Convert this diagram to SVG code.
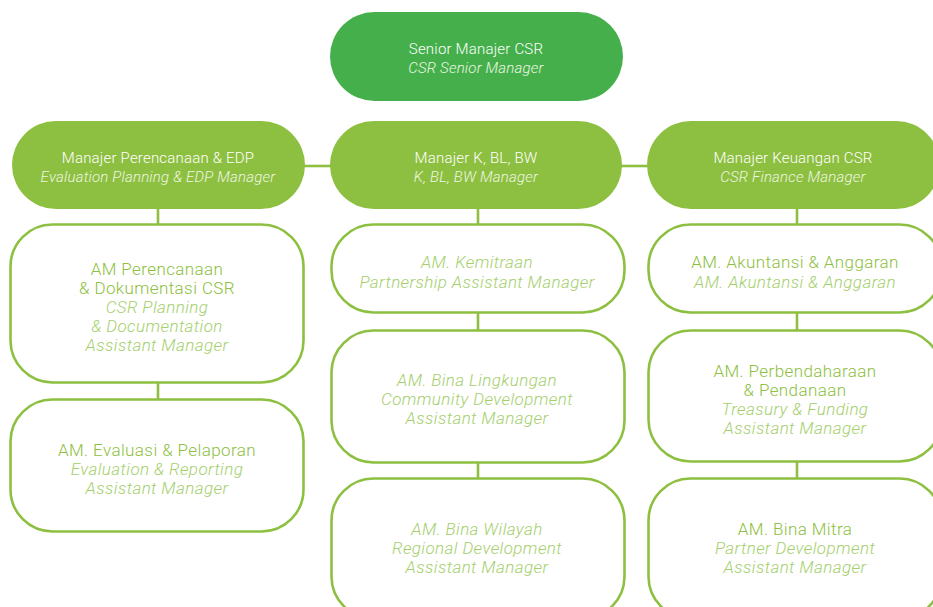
<svg xmlns="http://www.w3.org/2000/svg" width="933" height="607" viewBox="0 0 933 607">
<style>
.top{fill:#45b04b}
.mgr{fill:#8dc040}
.box{fill:#ffffff;stroke:#8dc040;stroke-width:2.6}
.con{stroke:#8dc040;stroke-width:2.6;fill:none}
text{font-family:Roboto,"Liberation Sans",sans-serif;text-anchor:middle;font-weight:300}
.wt{fill:#ffffff;font-size:15px;letter-spacing:0.2px}
.wi{fill:#eef6e2;font-size:15px;font-style:italic;letter-spacing:0.2px}
.gt{fill:#8dc040;font-size:17px;letter-spacing:0.4px}
.gi{fill:#a4cf6c;font-size:17px;font-style:italic;letter-spacing:0.4px}
</style>
<rect width="933" height="607" fill="#ffffff"/>
<g id="connectors">
<line class="con" x1="304" y1="166" x2="332" y2="166"/>
<line class="con" x1="620" y1="166" x2="649" y2="166"/>
<line class="con" x1="158" y1="208" x2="158" y2="225"/>
<line class="con" x1="158" y1="382" x2="158" y2="401"/>
<line class="con" x1="478" y1="208" x2="478" y2="225"/>
<line class="con" x1="478" y1="312" x2="478" y2="331"/>
<line class="con" x1="478" y1="462" x2="478" y2="479"/>
<line class="con" x1="797" y1="208" x2="797" y2="225"/>
<line class="con" x1="797" y1="312" x2="797" y2="331"/>
<line class="con" x1="797" y1="461" x2="797" y2="479"/>
</g>
<g id="senior">
<rect class="top" x="330" y="12" width="293" height="89" rx="44.5"/>
<text class="wt" x="476" y="54">Senior Manajer CSR</text>
<text class="wi" x="476" y="73">CSR Senior Manager</text>
</g>
<g id="mgr-edp">
<rect class="mgr" x="12" y="121" width="293" height="88" rx="44"/>
<text class="wt" x="158" y="163">Manajer Perencanaan &amp; EDP</text>
<text class="wi" x="158" y="182">Evaluation Planning &amp; EDP Manager</text>
</g>
<g id="mgr-kbl">
<rect class="mgr" x="330" y="121" width="292" height="88" rx="44"/>
<text class="wt" x="476" y="163">Manajer K, BL, BW</text>
<text class="wi" x="476" y="182">K, BL, BW Manager</text>
</g>
<g id="mgr-fin">
<rect class="mgr" x="647" y="121" width="293" height="88" rx="44"/>
<text class="wt" x="793" y="163">Manajer Keuangan CSR</text>
<text class="wi" x="793" y="182">CSR Finance Manager</text>
</g>
<g id="am-perencanaan">
<rect class="box" x="10.5" y="224.5" width="293" height="158" rx="42"/>
<text class="gt" x="157" y="275">AM Perencanaan</text>
<text class="gt" x="157" y="294">&amp; Dokumentasi CSR</text>
<text class="gi" x="157" y="313">CSR Planning</text>
<text class="gi" x="157" y="332">&amp; Documentation</text>
<text class="gi" x="157" y="351">Assistant Manager</text>
</g>
<g id="am-evaluasi">
<rect class="box" x="10.5" y="399.5" width="293" height="132" rx="42"/>
<text class="gt" x="157" y="456">AM. Evaluasi &amp; Pelaporan</text>
<text class="gi" x="157" y="475">Evaluation &amp; Reporting</text>
<text class="gi" x="157" y="494">Assistant Manager</text>
</g>
<g id="am-kemitraan">
<rect class="box" x="331.5" y="224.5" width="293" height="88" rx="42"/>
<text class="gi" x="477" y="268">AM. Kemitraan</text>
<text class="gi" x="477" y="288">Partnership Assistant Manager</text>
</g>
<g id="am-lingkungan">
<rect class="box" x="331.5" y="330.5" width="293" height="132" rx="42"/>
<text class="gi" x="477" y="386">AM. Bina Lingkungan</text>
<text class="gi" x="477" y="405">Community Development</text>
<text class="gi" x="477" y="424">Assistant Manager</text>
</g>
<g id="am-wilayah">
<rect class="box" x="331.5" y="478.5" width="293" height="140" rx="42"/>
<text class="gi" x="477" y="535">AM. Bina Wilayah</text>
<text class="gi" x="477" y="554">Regional Development</text>
<text class="gi" x="477" y="573">Assistant Manager</text>
</g>
<g id="am-akuntansi">
<rect class="box" x="648.5" y="224.5" width="293" height="88" rx="42"/>
<text class="gt" x="795" y="268">AM. Akuntansi &amp; Anggaran</text>
<text class="gi" x="795" y="288">AM. Akuntansi &amp; Anggaran</text>
</g>
<g id="am-perbendaharaan">
<rect class="box" x="648.5" y="330.5" width="293" height="131" rx="42"/>
<text class="gt" x="795" y="377">AM. Perbendaharaan</text>
<text class="gt" x="795" y="396">&amp; Pendanaan</text>
<text class="gi" x="795" y="415">Treasury &amp; Funding</text>
<text class="gi" x="795" y="434">Assistant Manager</text>
</g>
<g id="am-mitra">
<rect class="box" x="648.5" y="478.5" width="293" height="140" rx="42"/>
<text class="gt" x="795" y="535">AM. Bina Mitra</text>
<text class="gi" x="795" y="554">Partner Development</text>
<text class="gi" x="795" y="573">Assistant Manager</text>
</g>
</svg>
